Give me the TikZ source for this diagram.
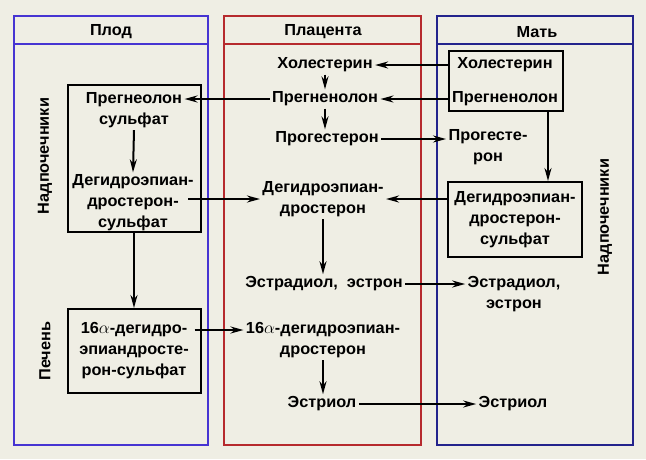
\documentclass[tikz,border=0pt]{standalone}
\usepackage{fontspec}
\setmainfont{Liberation Sans}[FakeStretch=1.02]
\usetikzlibrary{calc,arrows.meta}
\definecolor{bg}{HTML}{EFEEE4}
\definecolor{plodc}{HTML}{4634D2}
\definecolor{placc}{HTML}{B62A2E}
\definecolor{matc}{HTML}{23238C}

\begin{document}
\begin{tikzpicture}[x=1pt,y=-1pt,line width=2pt,
  txt/.style={font=\fontsize{16}{21}\selectfont\bfseries,align=center,inner sep=1.5pt},
  box/.style={draw,line width=2pt,inner sep=0pt},
  arr/.style={-{Stealth[length=13pt,width=7pt]}}]
\useasboundingbox (0,0) rectangle (646,459);
\fill[bg] (0,0) rectangle (646,459);

\draw[plodc] (14,16) rectangle (208,445);
\draw[plodc] (14,44) -- (208,44);
\draw[placc] (224,16) rectangle (421,445);
\draw[placc] (224,44) -- (421,44);
\draw[matc] (437,16) rectangle (633,445);
\draw[matc] (437,44) -- (633,44);

\node[txt] (hPlod) at (111,32) {Плод};
\node[txt] (hPlac) at (323,32) {Плацента};
\node[txt] (hMat) at (537,32) {Мать};

\node[txt,rotate=90] (lAdr) at (45,156) {Надпочечники};
\node[txt,rotate=90] (lLiv) at (45,351) {Печень};
\node[txt,rotate=90] (rAdr) at (605,217) {Надпочечники};

\node[box,minimum width=133pt,minimum height=147pt] (lBox) at (134,158.5) {};
\node[txt] (lPreg) at (134,110) {Прегнеолон\\сульфат};
\node[txt] (lDhea) at (133,203) {Дегидроэпиан-\\дростерон-\\сульфат};
\node[txt,box,minimum width=133pt,minimum height=84pt] (lHep) at (134,351) {16$\alpha$-дегидро-\\эпиандросте-\\рон-сульфат};

\node[txt] (cChol) at (325,65) {Холестерин};
\node[txt] (cPreg) at (325,99) {Прегненолон};
\node[txt] (cProg) at (327,139) {Прогестерон};
\node[txt] (cDhea) at (323,199) {Дегидроэпиан-\\дростерон};
\node[txt] (cEstr) at (324,284) {Эстрадиол,\ \ эстрон};
\node[txt] (c16) at (323,340) {16$\alpha$-дегидроэпиан-\\дростерон};
\node[txt] (cEstriol) at (322,404) {Эстриол};

\node[box,minimum width=114pt,minimum height=60pt] (rBox) at (506,81) {};
\node[txt] (rChol) at (505,65) {Холестерин};
\node[txt] (rPreg) at (505,99) {Прегненолон};
\node[txt] (rProg) at (488,147) {Прогесте-\\рон};
\node[txt,box,minimum width=134pt,minimum height=75pt] (rDhea) at (515,219.5) {Дегидроэпиан-\\дростерон-\\сульфат};
\node[txt] (rEstr) at (514,294) {Эстрадиол,\\эстрон};
\node[txt] (rEstriol) at (513,404) {Эстриол};

\draw[arr] (rBox.west |- rChol) -- (cChol.east);
\draw[arr] (rBox.west |- rPreg) -- (cPreg.east);
\draw[arr] (cPreg.west) -- (cPreg.west -| lPreg.east);
\draw[arr] (cChol.south) -- (cChol.south |- cPreg.north);
\draw[arr] (cPreg.south) -- (cPreg.south |- cProg.north);
\draw[arr] (cProg.east) -- (cProg.east -| rProg.west);
\draw[arr] (lPreg.south) -- (lDhea.north);
\draw[arr] ([xshift=-8pt]cDhea.west -| lDhea.east) -- (cDhea.west);
\draw[arr] (cDhea.east -| rDhea.west) -- (cDhea.east);
\draw[arr] ([xshift=-16pt]rBox.south east) -- ([xshift=-16pt]rBox.south east |- rDhea.north);
\draw[arr] (cDhea.south) -- (cDhea.south |- cEstr.north);
\draw[arr] (cEstr.east) -- (cEstr.east -| rEstr.west);
\draw[arr] (lBox.south) -- (lHep.north);
\coordinate (h) at ([yshift=10pt]c16.west);
\draw[arr] ([xshift=-7pt]lHep.east |- h) -- (h);
\draw[arr] (c16.south) -- (c16.south |- cEstriol.north);
\draw[arr] (cEstriol.east) -- (cEstriol.east -| rEstriol.west);
\end{tikzpicture}
\end{document}
